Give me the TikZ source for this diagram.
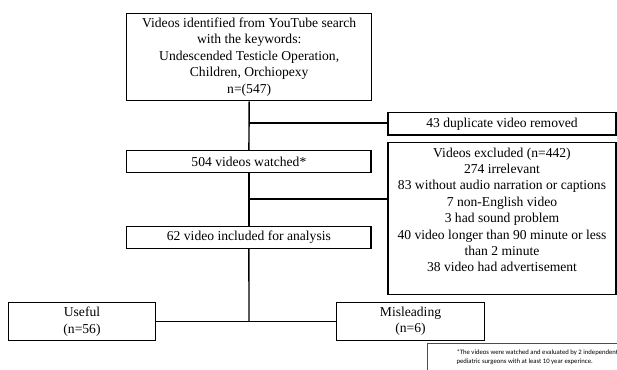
\documentclass[tikz,border=0pt]{standalone}
\usepackage{fontspec}
\setmainfont{Liberation Serif}
\newfontfamily\notefont{Carlito}
\begin{document}
\begin{tikzpicture}[x=1pt,y=1pt,
	box/.style={draw,line width=1.4pt,align=center,inner sep=0pt,font=\fontsize{13.6}{16.4}\selectfont},
	link/.style={line width=1.4pt}]
	\useasboundingbox (0,0) rectangle (617,369);
	\node[box,minimum width=245pt,minimum height=87.4pt] (search) at (249.2,312) {Videos identified from YouTube search\\with the keywords:\\Undescended Testicle Operation,\\Children, Orchiopexy\\n=(547)};
	\node[box,minimum width=228pt,minimum height=22.3pt] (dup) at (502,245.2) {43 duplicate video removed};
	\node[box,minimum width=244.3pt,minimum height=21.6pt] (watched) at (248.9,207.5) {504 videos watched*};
	\node[box,minimum width=228pt,minimum height=152pt] (excl) at (502,150.7) {};
	\node[box,draw=none,anchor=north] (excltext) at ([yshift=-5.4pt]excl.north) {Videos excluded (n=442)\\274 irrelevant\\83 without audio narration or captions\\7 non-English video\\3 had sound problem\\40 video longer than 90 minute or less\\than 2 minute\\38 video had advertisement};
	\node[draw=black!70,line width=0.7pt,anchor=north west,align=left,inner xsep=3.5pt,inner ysep=6.5pt,text depth=20pt,minimum width=220pt,font=\notefont\fontsize{6.7}{9}\selectfont] (note) at (427,26) {*The videos were watched and evaluated by 2 independent\\pediatric surgeons with at least 10 year experince.};
	\node[box,minimum width=244.3pt,minimum height=21.6pt] (included) at (248.9,131.5) {62 video included for analysis};
	\node[box,minimum width=147.4pt,minimum height=38.4pt] (useful) at (82,47.5) {Useful\\(n=56)};
	\node[box,minimum width=147.6pt,minimum height=38pt] (misleading) at (410.5,47.7) {Misleading\\(n=6)};
	\coordinate (dupjoint) at (249,246);
	\coordinate (excljoint) at (249,170);
	\coordinate (splitjoint) at (249,47.5);
	\draw[link] (search.south) -- (watched.north);
	\draw[link] (dupjoint) -- (dupjoint -| dup.west);
	\draw[link] (watched.south) -- (included.north);
	\draw[link] (excljoint) -- (excljoint -| excl.west);
	\draw[link] (included.south) -- (splitjoint);
	\draw[link] (useful.east) -- (useful.east -| misleading.west);
\end{tikzpicture}
\end{document}
